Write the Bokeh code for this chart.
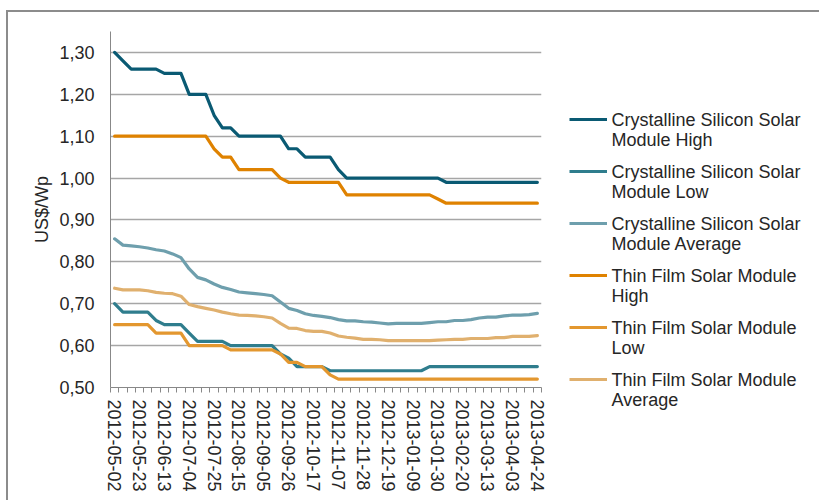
import pandas as pd
from bokeh.plotting import figure
from bokeh.layouts import row
from bokeh.models import (Range1d, FixedTicker, CustomJSTickFormatter, Legend, LegendItem, Label)
from bokeh.embed import file_html
from bokeh.resources import INLINE

# ---------------- data ----------------
dates = [d.strftime("%Y-%m-%d") for d in pd.date_range("2012-05-02", "2013-04-24", freq="7D")]

tick_labels = ["2012-05-02", "2012-05-23", "2012-06-13", "2012-07-04", "2012-07-25",
               "2012-08-15", "2012-09-05", "2012-09-26", "2012-10-17", "2012-11-07",
               "2012-11-28", "2012-12-19", "2013-01-09", "2013-01-30", "2013-02-20",
               "2013-03-13", "2013-04-03", "2013-04-24"]

cs_high = [1.30, 1.28, 1.26, 1.26, 1.26, 1.26, 1.25, 1.25, 1.25, 1.20,
           1.20, 1.20, 1.15, 1.12, 1.12, 1.10, 1.10, 1.10, 1.10, 1.10,
           1.10, 1.07, 1.07, 1.05, 1.05, 1.05, 1.05, 1.02, 1.00, 1.00,
           1.00, 1.00, 1.00, 1.00, 1.00, 1.00, 1.00, 1.00, 1.00, 1.00,
           0.99, 0.99, 0.99, 0.99, 0.99, 0.99, 0.99, 0.99, 0.99, 0.99,
           0.99, 0.99]

cs_low = [0.70, 0.68, 0.68, 0.68, 0.68, 0.66, 0.65, 0.65, 0.65, 0.63,
          0.61, 0.61, 0.61, 0.61, 0.60, 0.60, 0.60, 0.60, 0.60, 0.60,
          0.58, 0.57, 0.55, 0.55, 0.55, 0.55, 0.54, 0.54, 0.54, 0.54,
          0.54, 0.54, 0.54, 0.54, 0.54, 0.54, 0.54, 0.54, 0.55, 0.55,
          0.55, 0.55, 0.55, 0.55, 0.55, 0.55, 0.55, 0.55, 0.55, 0.55,
          0.55, 0.55]

cs_avg = [0.855, 0.840, 0.838, 0.836, 0.833, 0.829, 0.826, 0.819, 0.810, 0.783,
          0.763, 0.757, 0.747, 0.739, 0.734, 0.728, 0.726, 0.724, 0.722, 0.719,
          0.704, 0.689, 0.684, 0.676, 0.672, 0.670, 0.667, 0.662, 0.659, 0.659,
          0.657, 0.656, 0.654, 0.652, 0.653, 0.653, 0.653, 0.653, 0.655, 0.657,
          0.657, 0.660, 0.660, 0.662, 0.666, 0.668, 0.668, 0.671, 0.673, 0.673,
          0.674, 0.677]

tf_high = [1.10, 1.10, 1.10, 1.10, 1.10, 1.10, 1.10, 1.10, 1.10, 1.10,
           1.10, 1.10, 1.07, 1.05, 1.05, 1.02, 1.02, 1.02, 1.02, 1.02,
           1.00, 0.99, 0.99, 0.99, 0.99, 0.99, 0.99, 0.99, 0.96, 0.96,
           0.96, 0.96, 0.96, 0.96, 0.96, 0.96, 0.96, 0.96, 0.96, 0.95,
           0.94, 0.94, 0.94, 0.94, 0.94, 0.94, 0.94, 0.94, 0.94, 0.94,
           0.94, 0.94]

tf_low = [0.65, 0.65, 0.65, 0.65, 0.65, 0.63, 0.63, 0.63, 0.63, 0.60,
          0.60, 0.60, 0.60, 0.60, 0.59, 0.59, 0.59, 0.59, 0.59, 0.59,
          0.58, 0.56, 0.56, 0.55, 0.55, 0.55, 0.53, 0.52, 0.52, 0.52,
          0.52, 0.52, 0.52, 0.52, 0.52, 0.52, 0.52, 0.52, 0.52, 0.52,
          0.52, 0.52, 0.52, 0.52, 0.52, 0.52, 0.52, 0.52, 0.52, 0.52,
          0.52, 0.52]

tf_avg = [0.737, 0.733, 0.733, 0.733, 0.731, 0.727, 0.725, 0.724, 0.718, 0.698,
          0.693, 0.689, 0.685, 0.680, 0.676, 0.673, 0.672, 0.671, 0.669, 0.666,
          0.653, 0.642, 0.641, 0.636, 0.634, 0.634, 0.630, 0.623, 0.620, 0.618,
          0.615, 0.615, 0.614, 0.612, 0.612, 0.612, 0.612, 0.612, 0.612, 0.613,
          0.614, 0.615, 0.615, 0.617, 0.617, 0.617, 0.619, 0.619, 0.622, 0.622,
          0.622, 0.624]

series_line1 = ["Crystalline Silicon Solar", "Crystalline Silicon Solar",
                "Crystalline Silicon Solar", "Thin Film Solar Module",
                "Thin Film Solar Module", "Thin Film Solar Module"]
series_line2 = ["Module High", "Module Low", "Module Average", "High", "Low", "Average"]
series_values = [cs_high, cs_low, cs_avg, tf_high, tf_low, tf_avg]
series_colors = ["#0a5a73", "#2f7d8d", "#6e9fad", "#df8200", "#e3972f", "#e0b06e"]

y_ticks = [0.5, 0.6, 0.7, 0.8, 0.9, 1.0, 1.1, 1.2, 1.3]

# ---------------- styling constants ----------------
FONT = "Liberation Sans"
TXT = "#262626"
FS = "18px"
BORDER = "#8c8c8c"
H = 500
W1 = 551
W2 = 819 - W1
LW = 3.2

n = len(dates)
xs = list(range(n))

# ---------------- main chart ----------------
p = figure(width=W1, height=H, output_backend="svg", toolbar_location=None,
           x_range=Range1d(-0.5, n - 0.5), y_range=Range1d(0.5, 1.35),
           min_border_left=110, min_border_top=31, min_border_right=10,
           min_border_bottom=113)
p.border_fill_color = None
p.background_fill_color = "white"
p.outline_line_color = None
p.styles = {"background": (f"linear-gradient({BORDER},{BORDER}) 6px 10px / 100% 2px no-repeat, "
                           f"linear-gradient({BORDER},{BORDER}) 6px 10px / 2px 100% no-repeat, #ffffff")}

xa = p.xaxis[0]
label_idx = [dates.index(t) for t in tick_labels]
xa.ticker = FixedTicker(ticks=label_idx, minor_ticks=[i - 0.5 for i in range(n + 1)])
xa.major_label_overrides = {i: dates[i] for i in label_idx}
xa.major_label_orientation = "vertical"
xa.major_tick_line_color = None
xa.major_tick_in = 0
xa.major_tick_out = 5
xa.minor_tick_in = 0
xa.minor_tick_out = 5
xa.minor_tick_line_color = "#888888"
xa.axis_line_color = "#888888"
xa.major_label_text_font = FONT
xa.major_label_text_font_size = FS
xa.major_label_text_color = TXT
xa.major_label_standoff = 7

ya = p.yaxis[0]
ya.ticker = FixedTicker(ticks=y_ticks)
ya.formatter = CustomJSTickFormatter(code="return tick.toFixed(2).replace('.', ',');")
ya.major_tick_line_color = None
ya.minor_tick_line_color = None
ya.major_tick_out = 0
ya.major_tick_in = 0
ya.axis_line_color = "#888888"
ya.major_label_text_font = FONT
ya.major_label_text_font_size = FS
ya.major_label_text_color = TXT
ya.major_label_standoff = 16
ya.axis_label = "US$/Wp"
ya.axis_label_text_font = FONT
ya.axis_label_text_font_size = FS
ya.axis_label_text_font_style = "normal"
ya.axis_label_text_color = TXT
ya.axis_label_standoff = 4

p.xgrid.grid_line_color = None
p.ygrid.ticker = FixedTicker(ticks=y_ticks[1:])
p.ygrid.grid_line_color = "#a6a6a6"
p.ygrid.grid_line_width = 1.3

for vals, col in zip(series_values, series_colors):
    p.line(xs, vals, line_color=col, line_width=LW, line_join="round", line_cap="round")

# ---------------- legend panel ----------------
# the series are re-plotted here outside the visible range only to feed the legend swatches
q = figure(width=W2, height=H, output_backend="svg", toolbar_location=None,
           x_axis_type=None, y_axis_type=None, min_border=0,
           x_range=Range1d(1000, 1001), y_range=Range1d(1000, 1001))
try:
    q.frame_align = False
except Exception:
    pass
q.border_fill_color = None
q.background_fill_color = None
q.outline_line_color = None
q.styles = {"background": f"linear-gradient({BORDER},{BORDER}) 0 10px / 100% 2px no-repeat, #ffffff"}

items = []
for vals, col in zip(series_values, series_colors):
    r = q.line(xs, vals, line_color=col, line_width=LW)
    items.append(LegendItem(label=" ", renderers=[r]))

LEG_X = 18          # swatch start, px from left of legend panel
LEG_TOP = 109       # top of first entry, px from top
PITCH = 52
ITEM_H = 20
TEXT_X = LEG_X + 38 + 4
leg_bottom = LEG_TOP + 6 * ITEM_H + 5 * (PITCH - ITEM_H)
legend = Legend(items=items, location=(LEG_X, H - leg_bottom))
legend.border_line_color = None
legend.background_fill_alpha = 0
legend.padding = 0
legend.margin = 0
legend.spacing = PITCH - ITEM_H
legend.glyph_width = 38
legend.glyph_height = ITEM_H
legend.label_height = ITEM_H
legend.label_standoff = 0
legend.label_text_font_size = "1px"
q.add_layout(legend, "center")

for k, (t1, t2) in enumerate(zip(series_line1, series_line2)):
    c1 = LEG_TOP + ITEM_H / 2 + k * PITCH
    for txt, c in ((t1, c1), (t2, c1 + 20.5)):
        q.add_layout(Label(x=TEXT_X, y=H - c, x_units="screen", y_units="screen", text=txt,
                           text_font=FONT, text_font_size=FS, text_color=TXT,
                           text_baseline="middle", text_align="left"))

layout = row(p, q, spacing=0)
open("out.html", "w").write(file_html(layout, INLINE))
